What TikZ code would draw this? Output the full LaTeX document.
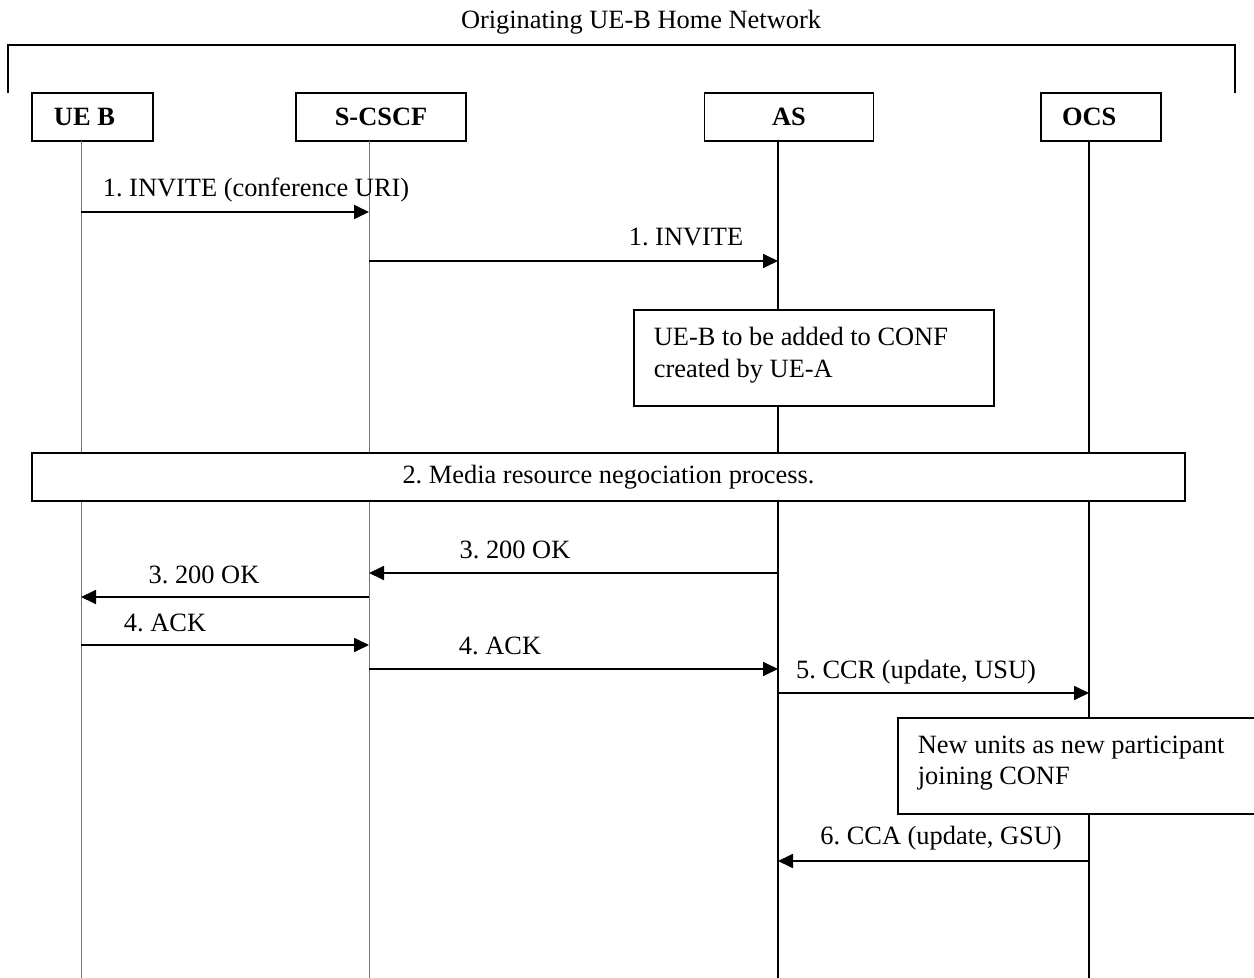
\documentclass[tikz,border=0pt]{standalone}
\usepackage{fontspec}
\setmainfont{Liberation Serif}
\usetikzlibrary{arrows.meta,positioning}
\newcommand{\diagfont}{\fontsize{13.2pt}{15.8pt}\selectfont\frenchspacing}
\tikzset{
  entity/.style={draw, line width=0.9pt, minimum height=24pt, inner sep=0pt, font=\diagfont\bfseries},
  lifethin/.style={draw=black!55, line width=0.5pt},
  lifethick/.style={draw=black, line width=0.9pt},
  msg/.style={line width=0.9pt, -{Triangle[length=7.5pt,width=7pt]}},
  msglabel/.style={inner sep=0pt},
  notebox/.style={draw, fill=white, line width=0.9pt, align=flush left, inner xsep=10pt, anchor=north west}
}

\begin{document}
\begin{tikzpicture}[x=0.5pt, y=-0.5pt, font=\diagfont]
    \useasboundingbox (0,0) rectangle (1254,978);
    % Home network bracket
    \node (title) at (641,22) {Originating UE-B Home Network};
    \draw[line width=0.9pt] (8,93) -- (8,45) -- (1235,45) -- (1235,93);
    % Entities
    \node[entity, align=flush left, inner xsep=11pt, text width=38.5pt] (ueb) at (92.5,117) {UE B};
    \node[entity, minimum width=85pt] (scscf) at (381,117) {S-CSCF};
    \node[entity, minimum width=84.5pt] (as) at (789,117) {AS};
    \node[entity, align=flush left, inner xsep=10.5pt, text width=39pt] (ocs) at (1101,117) {OCS};
    % Lifelines
    \coordinate (ueb-l) at (81,141);
    \coordinate (scscf-l) at (369,141);
    \coordinate (as-l) at (778,141);
    \coordinate (ocs-l) at (1089,141);
    \coordinate (bottom) at (0,978);
    \draw[lifethin] (ueb-l) -- (ueb-l |- bottom);
    \draw[lifethin] (scscf-l) -- (scscf-l |- bottom);
    \draw[lifethick] (as-l) -- (as-l |- bottom);
    \draw[lifethick] (ocs-l) -- (ocs-l |- bottom);
    % Message levels
    \coordinate (m1) at (0,212);
    \coordinate (m2) at (0,261);
    \coordinate (m3) at (0,573);
    \coordinate (m4) at (0,597);
    \coordinate (m5) at (0,645);
    \coordinate (m6) at (0,669);
    \coordinate (m7) at (0,693);
    \coordinate (m8) at (0,861);
    % Messages
    \draw[msg] (ueb-l |- m1) -- (scscf-l |- m1);
    \node[msglabel] (l1) at (256,190) {1. INVITE (conference URI)};
    \draw[msg] (scscf-l |- m2) -- (as-l |- m2);
    \node[msglabel] (l2) at (686,237) {1. INVITE};
    % Notes
    \node[notebox, minimum width=180pt, minimum height=48pt, text width=160pt] (addconf) at (633,309)
      {UE-B to be added to CONF\\created by UE-A\\[-10pt]\mbox{}};
    \node[draw, fill=white, line width=0.9pt, minimum width=576.5pt, minimum height=24pt, inner sep=0pt] (media) at (608.5,477)
      {2. Media resource negociation process.\hspace{9pt}};
    \draw[msg] (as-l |- m3) -- (scscf-l |- m3);
    \node[msglabel] (l3) at (515,550) {3. 200 OK};
    \draw[msg] (scscf-l |- m4) -- (ueb-l |- m4);
    \node[msglabel] (l4) at (204,575) {3. 200 OK};
    \draw[msg] (ueb-l |- m5) -- (scscf-l |- m5);
    \node[msglabel] (l5) at (165,623) {4. ACK};
    \draw[msg] (scscf-l |- m6) -- (as-l |- m6);
    \node[msglabel] (l6) at (500,646) {4. ACK};
    \draw[msg] (as-l |- m7) -- (ocs-l |- m7);
    \node[msglabel] (l7) at (916,672) {5. CCR (update, USU)};
    \node[notebox, minimum width=179pt, minimum height=48pt, text width=159pt] (units) at (897,717)
      {New units as new participant\\joining CONF\\[-10pt]\mbox{}};
    \draw[msg] (ocs-l |- m8) -- (as-l |- m8);
    \node[msglabel] (l8) at (941,838) {6. CCA (update, GSU)};
\end{tikzpicture}
\end{document}
